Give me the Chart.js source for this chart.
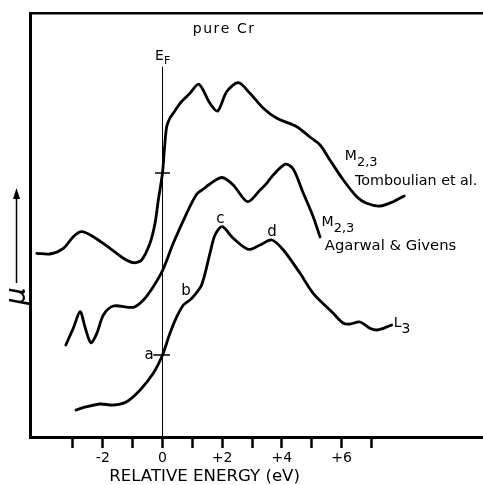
<!DOCTYPE html>
<html>
<head>
<meta charset="utf-8">
<script src="https://cdn.jsdelivr.net/npm/chart.js@4.4.1/dist/chart.umd.min.js"></script>
<style>
  html, body { margin: 0; padding: 0; background: #ffffff; }
  #wrap { width: 483px; height: 485px; position: relative; }
</style>
</head>
<body>
<div id="wrap"><canvas id="c" width="483" height="485"></canvas></div>
<script>
// ---------------- DATA (relative energy in eV, absorption mu in arbitrary units) ----------------
const energyTomboulian = [-4.21, -3.77, -3.32, -2.99, -2.71, -2.32, -1.76, -1.31, -0.98, -0.70, -0.42, -0.25, -0.14, 0.00, 0.07, 0.14, 0.25, 0.36, 0.59, 0.92, 1.22, 1.59, 1.85, 2.15, 2.54, 2.93, 3.38, 3.83, 4.50, 4.94, 5.28, 5.61, 6.06, 6.51, 6.84, 7.29, 7.73, 8.10];
const muTomboulian     = [183.7, 183.0, 188.7, 200.3, 205.3, 200.3, 188.7, 178.7, 174.3, 177.0, 193.7, 213.7, 237.0, 264.0, 290.0, 310.3, 319.0, 323.7, 333.7, 343.7, 352.7, 333.7, 326.0, 345.3, 354.3, 343.7, 328.7, 318.7, 310.3, 300.0, 292.0, 277.0, 257.0, 240.3, 233.7, 231.0, 235.3, 241.0];

const energyAgarwal = [-3.24, -2.99, -2.76, -2.60, -2.40, -2.20, -1.98, -1.65, -0.98, -0.64, -0.31, 0.01, 0.36, 0.81, 1.15, 1.37, 1.59, 1.99, 2.37, 2.85, 3.27, 3.49, 3.71, 4.12, 4.38, 4.72, 5.05, 5.28];
const muAgarwal     = [92.0, 108.7, 125.3, 110.3, 94.3, 103.7, 122.0, 131.0, 129.7, 137.0, 150.3, 167.0, 193.7, 223.7, 243.0, 248.0, 253.0, 259.5, 252.0, 235.3, 247.0, 253.7, 262.0, 272.8, 268.0, 243.7, 220.3, 200.0];

const energyL3 = [-2.90, -2.54, -2.09, -1.65, -1.20, -0.75, -0.31, 0.00, 0.25, 0.48, 0.70, 0.92, 1.03, 1.31, 1.59, 1.76, 2.00, 2.37, 2.87, 3.27, 3.66, 4.05, 4.61, 5.05, 5.72, 6.06, 6.28, 6.62, 6.95, 7.18, 7.40, 7.68];
const muL3     = [27.0, 30.3, 33.0, 32.0, 35.3, 47.0, 63.7, 82.0, 103.7, 120.3, 132.0, 137.0, 140.3, 152.0, 183.7, 202.0, 210.3, 198.7, 187.7, 192.0, 197.0, 187.0, 163.7, 143.7, 123.7, 113.7, 113.0, 115.0, 108.7, 107.0, 108.7, 112.0];

// Fermi level marker (E_F line) and the two crossing marks on it
const fermiEnergy = [0, 0];
const fermiMu = [0, 370.3];
const markTopEnergy = [-0.25, 0.25];
const markTopMu = [264, 264];
const markAEnergy = [-0.31, 0.25];
const markAMu = [82, 82];

// Tick positions & labels
const tickValues = [-3, -2, -1, 0, 1, 2, 3, 4, 5, 6, 7];
const tickLabelText = { '-2': '-2', '0': '0', '2': '+2', '4': '+4', '6': '+6' };

const xTitle = 'RELATIVE ENERGY (eV)';
const yTitle = 'μ';

// ---------------- helpers ----------------
const pts = (xs, ys) => xs.map((v, i) => ({ x: v, y: ys[i] }));
const FONT = '"DejaVu Sans", sans-serif';

const curveStyle = {
  borderColor: '#000', borderWidth: 2.8, pointRadius: 0, fill: false,
  tension: 0.3, borderCapStyle: 'round', borderJoinStyle: 'round'
};

// text annotations (positions in data coordinates: eV, mu)
const annotations = [
  { x: 1.01, y: 403.7, align: 'left', ls: 1.6, parts: [{ t: 'pure Cr', s: 14 }] },
  { x: -0.25, y: 377, align: 'left', parts: [{ t: 'E', s: 14 }, { t: 'F', s: 11, dy: 3.5 }] },
  { x: 6.11, y: 277, align: 'left', parts: [{ t: 'M', s: 14 }, { t: '2,3', s: 13, dy: 6 }] },
  { x: 6.45, y: 252, align: 'left', parts: [{ t: 'Tomboulian et al.', s: 14.3 }] },
  { x: 5.33, y: 211, align: 'left', parts: [{ t: 'M', s: 14 }, { t: '2,3', s: 13, dy: 6 }] },
  { x: 5.44, y: 187, align: 'left', parts: [{ t: 'Agarwal & Givens', s: 14.8 }] },
  { x: 7.75, y: 110, align: 'left', parts: [{ t: 'L', s: 14 }, { t: '3', s: 14, dy: 5.5 }] },
  { x: -0.45, y: 77.7, align: 'center', parts: [{ t: 'a', s: 15 }] },
  { x: 0.79, y: 142, align: 'center', parts: [{ t: 'b', s: 15 }] },
  { x: 1.94, y: 213.7, align: 'center', parts: [{ t: 'c', s: 15 }] },
  { x: 3.67, y: 201, align: 'center', parts: [{ t: 'd', s: 15 }] }
];

const annotPlugin = {
  id: 'annot',
  afterDraw(chart) {
    const { ctx, scales: { x, y }, chartArea } = chart;
    ctx.save();
    ctx.fillStyle = '#000';
    ctx.strokeStyle = '#000';
    ctx.textBaseline = 'alphabetic';
    for (const a of annotations) {
      ctx.letterSpacing = (a.ls || 0) + 'px';
      let px = x.getPixelForValue(a.x);
      const py = y.getPixelForValue(a.y);
      if (a.align === 'center') {
        let w = 0;
        for (const p of a.parts) { ctx.font = p.s + 'px ' + FONT; w += ctx.measureText(p.t).width; }
        px -= w / 2;
      }
      ctx.textAlign = 'left';
      for (const p of a.parts) {
        ctx.font = p.s + 'px ' + FONT;
        ctx.fillText(p.t, px, py + (p.dy || 0));
        px += ctx.measureText(p.t).width;
      }
    }
    ctx.letterSpacing = '0px';
    // x axis title
    ctx.font = '16.6px ' + FONT;
    ctx.textAlign = 'center';
    ctx.textBaseline = 'middle';
    ctx.fillText(xTitle, x.getPixelForValue(1.41), x.bottom - 8.5);

    // y axis: mu with upward arrow
    const ax = chartArea.left - 13.5;
    const yTop = y.getPixelForValue(249);
    const yBot = y.getPixelForValue(154);
    ctx.lineWidth = 1.5;
    ctx.beginPath(); ctx.moveTo(ax, yTop + 6); ctx.lineTo(ax, yBot); ctx.stroke();
    ctx.beginPath(); ctx.moveTo(ax, yTop); ctx.lineTo(ax - 3.5, yTop + 11); ctx.lineTo(ax + 3.5, yTop + 11); ctx.closePath(); ctx.fill();
    ctx.save();
    ctx.translate(ax + 1, y.getPixelForValue(141));
    ctx.rotate(-Math.PI / 2);
    ctx.font = 'italic 28px ' + FONT;
    ctx.textAlign = 'center';
    ctx.textBaseline = 'middle';
    ctx.fillText(yTitle, 0, 0);
    ctx.restore();
    ctx.restore();
  }
};

new Chart(document.getElementById('c'), {
  type: 'line',
  data: {
    datasets: [
      { label: 'M2,3 Tomboulian et al.', data: pts(energyTomboulian, muTomboulian), ...curveStyle },
      { label: 'M2,3 Agarwal & Givens', data: pts(energyAgarwal, muAgarwal), ...curveStyle },
      { label: 'L3', data: pts(energyL3, muL3), ...curveStyle },
      { label: 'E_F', data: pts(fermiEnergy, fermiMu), borderColor: '#000', borderWidth: 1, pointRadius: 0, tension: 0 },
      { label: 'mark', data: pts(markTopEnergy, markTopMu), borderColor: '#000', borderWidth: 1.5, pointRadius: 0, tension: 0 },
      { label: 'mark a', data: pts(markAEnergy, markAMu), borderColor: '#000', borderWidth: 1.5, pointRadius: 0, tension: 0 }
    ]
  },
  options: {
    responsive: false,
    devicePixelRatio: 1,
    animation: false,
    layout: { padding: 0 },
    plugins: { legend: { display: false }, tooltip: { enabled: false } },
    scales: {
      x: {
        type: 'linear', position: 'bottom', min: -4.44, max: 10.74,
        afterFit: s => { s.height = 48; },
        afterBuildTicks: s => { s.ticks = tickValues.map(v => ({ value: v })); },
        ticks: {
          autoSkip: false, maxRotation: 0, padding: 2, color: '#000',
          font: { family: FONT, size: 14 },
          callback: v => (tickLabelText[String(v)] !== undefined ? tickLabelText[String(v)] : '')
        },
        grid: { drawOnChartArea: false, drawTicks: true, tickLength: 11, tickWidth: 2.5, tickColor: '#000' },
        border: { display: true, color: '#000', width: 3 }
      },
      xTop: {
        type: 'linear', position: 'top', min: -4.44, max: 10.74,
        afterFit: s => { s.height = 13; },
        ticks: { display: false },
        grid: { display: false },
        border: { display: true, color: '#000', width: 2.5 }
      },
      y: {
        type: 'linear', position: 'left', min: 0, max: 424,
        afterFit: s => { s.width = 30; },
        ticks: { display: false },
        grid: { display: false },
        border: { display: true, color: '#000', width: 3 }
      }
    }
  },
  plugins: [annotPlugin]
});
</script>
</body>
</html>
